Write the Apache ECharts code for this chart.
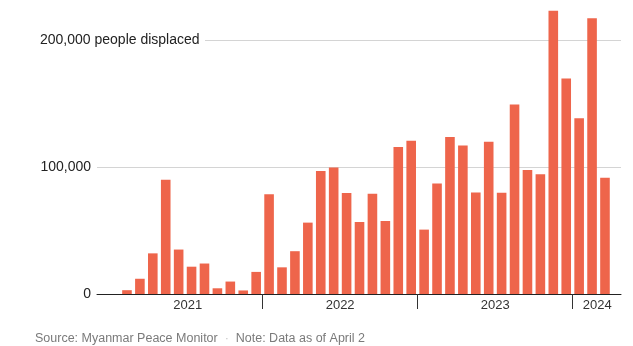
<!DOCTYPE html>
<html>
<head>
<meta charset="utf-8">
<script src="https://cdn.jsdelivr.net/npm/echarts@6/dist/echarts.min.js"></script>
<style>
  html, body { margin: 0; padding: 0; background: #fff; }
  #chart { width: 633px; height: 346px; }
</style>
</head>
<body>
<div id="chart"></div>
<script>
// ---- Data (monthly people displaced, Myanmar) ----
const periods = [
  '2021-01','2021-02','2021-03','2021-04','2021-05','2021-06','2021-07','2021-08','2021-09','2021-10','2021-11','2021-12',
  '2022-01','2022-02','2022-03','2022-04','2022-05','2022-06','2022-07','2022-08','2022-09','2022-10','2022-11','2022-12',
  '2023-01','2023-02','2023-03','2023-04','2023-05','2023-06','2023-07','2023-08','2023-09','2023-10','2023-11','2023-12',
  '2024-01','2024-02','2024-03'
];
const displaced = [
  0, 3000, 12000, 32000, 90000, 35000, 21500, 24000, 4500, 9800, 2800, 17400,
  78500, 21000, 33700, 56200, 96800, 99700, 79500, 56700, 79000, 57500, 115700, 120700,
  50700, 87100, 123600, 117000, 80000, 119900, 79800, 149200, 97600, 94200, 223100, 169700,
  138300, 217100, 91600
];
const yearLabels = ['2021', '2022', '2023', '2024'];
const yTicks = [0, 100000, 200000];
const sourceText = 'Source: Myanmar Peace Monitor';
const noteText = 'Note: Data as of April 2';

// ---- Layout (positions only) ----
const yearLabelPos = [5.7, 17.5, 29.5, 37.4];   // label anchor positions on month-index axis
const yearTickPos = [11.5, 23.5, 35.5];          // year boundaries

const FONT = "'Liberation Sans', Arial, sans-serif";
const chart = echarts.init(document.getElementById('chart'), null, { renderer: 'canvas' });

function fmt(v) { return v.toLocaleString('en-US'); }
const yMax = yTicks[yTicks.length - 1];

chart.setOption({
  animation: false,
  backgroundColor: '#ffffff',
  textStyle: { fontFamily: FONT },
  title: {
    left: 35, top: 332, padding: 0,
    text: '{a|' + sourceText + '}{b|  ·  }{a|' + noteText + '}',
    textStyle: {
      fontWeight: 'normal',
      rich: {
        a: { fontFamily: FONT, fontSize: 12.5, fontWeight: 'normal', color: '#7a7a7a', lineHeight: 14 },
        b: { fontFamily: FONT, fontSize: 12.5, fontWeight: 'normal', color: '#c8c8c8', lineHeight: 14 }
      }
    }
  },
  grid: { left: 97, right: 12, top: 40, bottom: 52, containLabel: false },
  xAxis: {
    type: 'value',
    min: -1.32, max: 39.24,
    splitLine: { show: false },
    axisLine: { show: true, onZero: true, lineStyle: { color: '#222', width: 1 } },
    axisTick: { show: true, customValues: yearTickPos, length: 15, lineStyle: { color: '#333', width: 1 } },
    axisLabel: {
      customValues: yearLabelPos,
      margin: 5,
      fontFamily: FONT, fontSize: 13, color: '#333',
      formatter: function (v) {
        const i = yearLabelPos.findIndex(p => Math.abs(p - v) < 1e-6);
        return i >= 0 ? yearLabels[i] : '';
      }
    }
  },
  yAxis: [
    {
      type: 'value', min: yTicks[0], max: yMax, interval: yTicks[1] - yTicks[0],
      axisLine: { show: false }, axisTick: { show: false },
      splitLine: { show: true, lineStyle: { color: '#d4d4d4', width: 1 } },
      axisLabel: {
        align: 'right', margin: 6,
        fontFamily: FONT, fontSize: 14, color: '#222',
        formatter: function (v) { return v === yMax ? '' : fmt(v); }
      }
    },
    {
      type: 'value', position: 'left', min: yTicks[0], max: yMax, interval: yTicks[1] - yTicks[0],
      axisLine: { show: false }, axisTick: { show: false }, splitLine: { show: false },
      axisLabel: {
        align: 'left', margin: 57,
        fontFamily: FONT, fontSize: 14, color: '#222',
        formatter: function (v) { return v === yMax ? '{t|' + fmt(v) + ' people displaced}' : ''; },
        rich: {
          t: { fontFamily: FONT, fontSize: 14, color: '#222', width: 165, backgroundColor: '#ffffff', padding: [3, 0, 3, 0] }
        }
      }
    }
  ],
  series: [{
    type: 'bar',
    name: 'People displaced',
    yAxisIndex: 0,
    clip: false,
    barWidth: 9.6,
    itemStyle: { color: '#EE654B' },
    data: displaced.map((v, i) => [i, v])
  }]
});
</script>
</body>
</html>
